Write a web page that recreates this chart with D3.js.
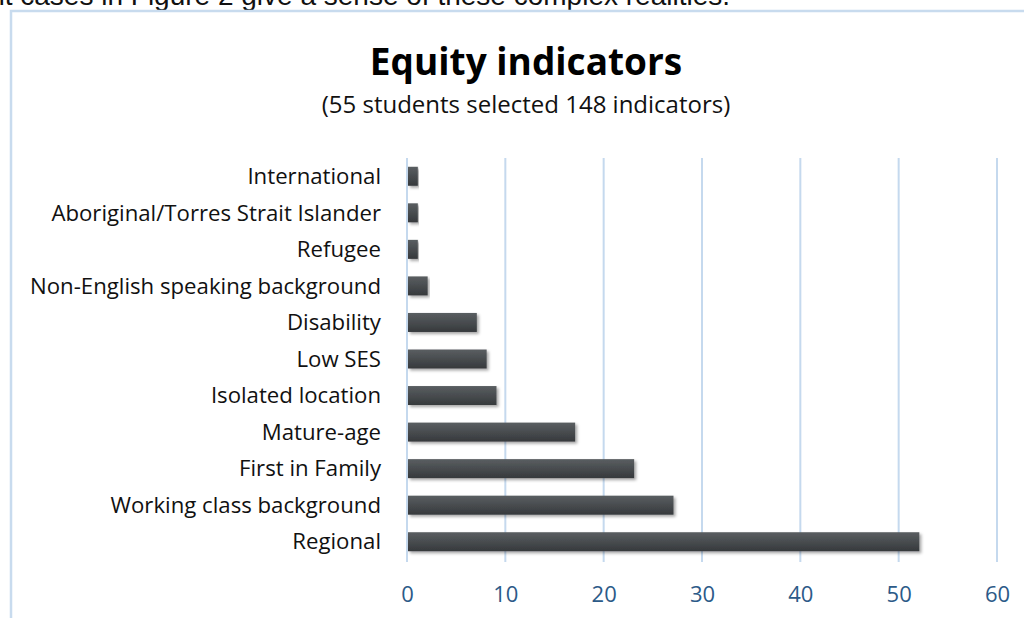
<!DOCTYPE html>
<html>
<head>
<meta charset="utf-8">
<script src="https://cdn.jsdelivr.net/npm/d3@7"></script>
<style>
  body { margin: 0; background: #fff; overflow: hidden; }
  svg { display: block; }
  .lbl { font-family: "Open Sans", Carlito, Calibri, sans-serif; }
</style>
</head>
<body>
<script>
// Data
var categories = ["International", "Aboriginal/Torres Strait Islander", "Refugee",
    "Non-English speaking background", "Disability", "Low SES", "Isolated location",
    "Mature-age", "First in Family", "Working class background", "Regional"];
var counts = [1, 1, 1, 2, 7, 8, 9, 17, 23, 27, 52];
var xTicks = [0, 10, 20, 30, 40, 50, 60];

var W = 1024, H = 618;
var margin = {top: 158, left: 407, right: 27, bottom: 56};

var svg = d3.select("body").append("svg")
    .attr("width", W)
    .attr("height", H);

// bar gradient + shadow
var defs = svg.append("defs");
var grad = defs.append("linearGradient").attr("id", "barGrad")
    .attr("x1", 0).attr("y1", 0).attr("x2", 0).attr("y2", 1);
grad.append("stop").attr("offset", "0%").attr("stop-color", "#5a5e61");
grad.append("stop").attr("offset", "45%").attr("stop-color", "#4a4e51");
grad.append("stop").attr("offset", "100%").attr("stop-color", "#36393c");
var shadow = defs.append("filter").attr("id", "shadow")
    .attr("x", "-5%").attr("y", "-30%").attr("width", "115%").attr("height", "170%");
shadow.append("feDropShadow").attr("dx", 2).attr("dy", 2)
    .attr("stdDeviation", 1.6).attr("flood-color", "#000").attr("flood-opacity", 0.35);

// clipped text from the page above
svg.append("text")
    .attr("x", 730).attr("y", 5)
    .attr("text-anchor", "end")
    .style("font-family", "Liberation Sans, Arial, sans-serif")
    .style("font-size", "28px")
    .attr("fill", "#111")
    .text("Different cases in Figure 2 give a sense of these complex realities.");

// frame around the figure
svg.append("rect")
    .attr("x", 11).attr("y", 11)
    .attr("width", W + 20).attr("height", H + 20)
    .attr("fill", "none")
    .attr("stroke", "#c8dbee")
    .attr("stroke-width", 2.5);

// Scales
var xScale = d3.scaleLinear()
    .domain([0, 60])
    .range([margin.left, 997]);
var yScale = d3.scaleBand()
    .domain(categories)
    .range([margin.top, 560])
    .paddingInner(0.48)
    .paddingOuter(0.24);

// gridlines
svg.append("g").selectAll("line")
    .data(xTicks)
    .enter().append("line")
    .attr("x1", function(d) { return xScale(d); })
    .attr("x2", function(d) { return xScale(d); })
    .attr("y1", margin.top)
    .attr("y2", 562)
    .attr("stroke", "#c5d9ee")
    .attr("stroke-width", 2);

// bars
svg.append("g").selectAll("rect")
    .data(counts)
    .enter().append("rect")
    .attr("x", xScale(0) + 1)
    .attr("y", function(d, i) { return yScale(categories[i]); })
    .attr("width", function(d) { return xScale(d) - xScale(0); })
    .attr("height", yScale.bandwidth())
    .attr("fill", "url(#barGrad)")
    .attr("filter", "url(#shadow)");

// category labels
svg.append("g").selectAll("text")
    .data(categories)
    .enter().append("text")
    .attr("class", "lbl")
    .attr("x", 381)
    .attr("y", function(d) { return yScale(d) + yScale.bandwidth() / 2; })
    .attr("dy", "0.35em")
    .attr("text-anchor", "end")
    .style("font-size", "22.2px")
    .attr("fill", "#111")
    .text(function(d) { return d; });

// x axis tick labels
var xAxis = d3.axisBottom(xScale).tickValues(xTicks).tickSize(0).tickPadding(0);
var gx = svg.append("g")
    .attr("transform", "translate(0,602)")
    .call(xAxis);
gx.select(".domain").remove();
gx.selectAll("text")
    .attr("class", "lbl")
    .attr("dy", 0)
    .style("font-size", "22px")
    .attr("fill", "#2c5a88");

// title
svg.append("text")
    .attr("class", "lbl")
    .attr("x", 526).attr("y", 75)
    .attr("text-anchor", "middle")
    .style("font-size", "37px")
    .style("font-weight", "bold")
    .attr("fill", "#000")
    .text("Equity indicators");
svg.append("text")
    .attr("class", "lbl")
    .attr("x", 526).attr("y", 113)
    .attr("text-anchor", "middle")
    .style("font-size", "24px")
    .attr("fill", "#111")
    .text("(55 students selected 148 indicators)");
</script>
</body>
</html>
